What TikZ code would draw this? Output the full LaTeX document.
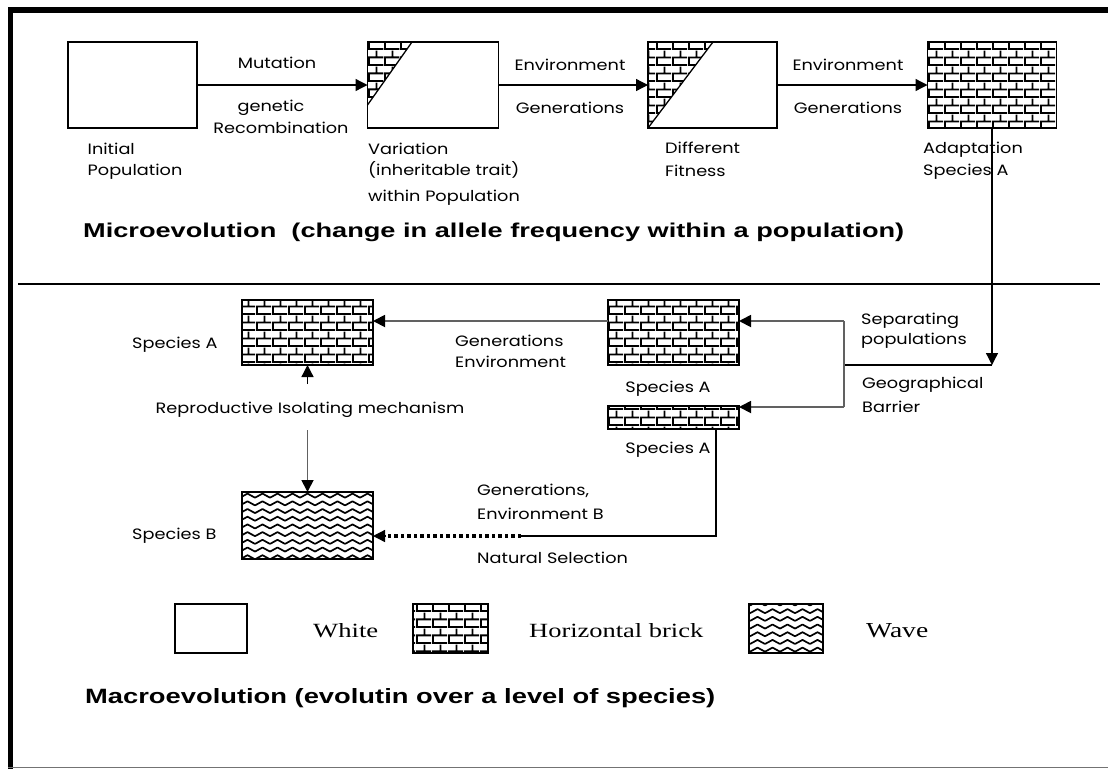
\documentclass[tikz,border=0pt]{standalone}
\usepackage{fontspec}
\usepackage{graphicx}
\usetikzlibrary{arrows.meta,patterns}
\newfontfamily\labfont[FakeStretch=1.18]{Poppins}
\newfontfamily\titlefont{Liberation Sans}
\newfontfamily\legfont{Liberation Serif}

\pgfdeclarepatternformonly{hbrick}{\pgfpointorigin}{\pgfpoint{16pt}{15.6pt}}{\pgfpoint{16pt}{15.6pt}}{%
  \pgfsetlinewidth{1.9pt}%
  \pgfpathmoveto{\pgfpoint{0pt}{0.95pt}}\pgfpathlineto{\pgfpoint{16pt}{0.95pt}}%
  \pgfpathmoveto{\pgfpoint{0pt}{8.75pt}}\pgfpathlineto{\pgfpoint{16pt}{8.75pt}}%
  \pgfpathmoveto{\pgfpoint{0.95pt}{0pt}}\pgfpathlineto{\pgfpoint{0.95pt}{7.8pt}}%
  \pgfpathmoveto{\pgfpoint{8.95pt}{7.8pt}}\pgfpathlineto{\pgfpoint{8.95pt}{15.6pt}}%
  \pgfusepath{stroke}}

\pgfdeclarepatternformonly{hwave}{\pgfpoint{-1pt}{-1pt}}{\pgfpoint{16pt}{8.7pt}}{\pgfpoint{15pt}{7.7pt}}{%
  \pgfsetlinewidth{1.7pt}%
  \pgfsetroundjoin
  \pgfpathmoveto{\pgfpoint{0pt}{1.8pt}}%
  \pgfpathlineto{\pgfpoint{7.5pt}{5.9pt}}%
  \pgfpathlineto{\pgfpoint{15pt}{1.8pt}}%
  \pgfusepath{stroke}}

\begin{document}
\begin{tikzpicture}[x=1pt,y=-1pt,
  box/.style={draw, line width=1.4pt, inner sep=0pt, outer sep=0pt},
  lab/.style={font=\labfont\fontsize{15}{17}\selectfont, inner sep=0pt, anchor=base west},
  labc/.style={lab, anchor=base},
  arr/.style={-{Triangle[length=12pt,width=12pt,color=black]}},
  conn/.style={line width=1.3pt, draw=black},
  gconn/.style={line width=1.8pt, draw=black!62},
  dotline/.style={line width=3.5pt, dash pattern=on 3.5pt off 3pt},
  legtext/.style={inner sep=0pt, anchor=base west, font=\legfont},
]
\useasboundingbox (0,0) rectangle (1108,769);

% frame
\fill[black] (8,7) rectangle (1108,12.5);
\fill[black] (8,7) rectangle (13,769);
\draw[black!55, line width=1.5pt] (8,767.5) -- (1108,767.5);

% divider
\draw[line width=1.3pt] (18,284) -- (1100,284);

% top row boxes
\node[box, minimum width=129pt, minimum height=86pt] (init) at (132.5,85) {};
\node[box, minimum width=131pt, minimum height=86pt] (var) at (433,85) {};
\node[box, minimum width=129pt, minimum height=86pt] (fit) at (712.5,85) {};
\node[box, minimum width=129pt, minimum height=86pt, pattern=hbrick] (adapt) at (992,85) {};

% partial brick triangles
\fill[pattern=hbrick] (var.north west) -- ++(44.5,0) -- ++(-44.5,63) -- cycle;
\draw[line width=1.3pt] (var.north west) ++(44.5,0) -- ++(-44.5,63);
\fill[pattern=hbrick] (fit.north west) -- ++(65,0) -- ++(-65,86) -- cycle;
\draw[line width=1.3pt] (fit.north west) ++(65,0) -- ++(-65,86);
\draw[box] (var.north west) rectangle (var.south east);
\draw[box] (fit.north west) rectangle (fit.south east);

% top arrows
\draw[conn,arr] (init.east) -- (var.west);
\draw[conn,arr] (var.east) -- (fit.west);
\draw[conn,arr] (fit.east) -- (adapt.west);

% top labels
\node[labc] (tMut) at (277,68) {Mutation};
\node[labc] (tGenetic) at (271,111) {genetic};
\node[labc] (tRecomb) at (281,133) {Recombination};
\node[labc] (tEnv1) at (570,70) {Environment};
\node[labc] (tGens1) at (570,113) {Generations};
\node[labc] (tEnv2) at (848,70) {Environment};
\node[labc] (tGens2) at (848,113) {Generations};

\node[lab] (tInit1) at (87.5,154) {Initial};
\node[lab] (tInit2) at (87.5,175) {Population};
\node[lab] (tVar1) at (368,154) {Variation};
\node[lab] (tVar2) at (368,175) {(inheritable trait)};
\node[lab] (tVar3) at (368,201) {within Population};
\node[lab] (tFit1) at (665,153) {Different};
\node[lab] (tFit2) at (665,176) {Fitness};
\node[lab] (tAd1) at (923,153) {Adaptation};
\node[lab] (tAd2) at (923,175) {Species A};

\node[inner sep=0pt, anchor=base west] (micro) at (83,237)
  {\resizebox{821pt}{14.5pt}{\titlefont\bfseries Microevolution\ \ (change in allele frequency within a population)}};

% bottom boxes
\node[box, minimum width=131pt, minimum height=65pt, pattern=hbrick] (spA1) at (307.5,332.5) {};
\node[box, minimum width=131pt, minimum height=65pt, pattern=hbrick] (spA2) at (673.5,332.5) {};
\node[box, minimum width=131pt, minimum height=23pt, pattern=hbrick] (spA3) at (673.5,417.5) {};
\node[box, minimum width=131pt, minimum height=67pt, pattern=hwave] (spB) at (307.5,525.5) {};

% connector points
\coordinate (j1) at (992,365);
\coordinate (j2) at (844,365);
\coordinate (j3) at (844,321);
\coordinate (j4) at (844,407);
\coordinate (ra) at (307.5,384);
\coordinate (rb) at (307.5,430);
\coordinate (k1) at (716,536);
\coordinate (k2) at (521,536);
\coordinate (k3) at (386,536);

\draw[conn,arr] (adapt.south) -- (j1);
\draw[conn] (j1) -- (j2);
\draw[gconn] (j3) -- (j4);
\draw[gconn,arr] (j3) -- (spA2.east |- j3);
\draw[gconn,arr] (j4) -- (spA3.east |- j4);
\draw[gconn,arr] (spA2.west |- j3) -- (spA1.east |- j3);
\draw[conn,arr] (ra) -- (spA1.south);
\draw[gconn,arr] (rb) -- (spB.north);
\draw[conn] (spA3.south -| k1) -- (k1) -- (k2);
\draw[dotline] (k2) -- (k3);
\draw[conn,arr] (k3) -- (spB.east |- k2);

% bottom labels
\node[lab] (tSpA1) at (132,348) {Species A};
\node[lab] (tGen3) at (455,346) {Generations};
\node[lab] (tEnv3) at (455,367) {Environment};
\node[labc] (tRep) at (310,413) {Reproductive Isolating mechanism};
\node[lab] (tSpB) at (132,539) {Species B};
\node[lab] (tGen4) at (477,495) {Generations,};
\node[lab] (tEnv4) at (477,519) {Environment B};
\node[lab] (tNat) at (477,563) {Natural Selection};
\node[lab] (tSep1) at (861,324) {Separating};
\node[lab] (tSep2) at (861,344) {populations};
\node[lab] (tGeo1) at (862,388) {Geographical};
\node[lab] (tGeo2) at (862,412) {Barrier};
\node[labc] (tSpA2) at (668,392) {Species A};
\node[labc] (tSpA3) at (668,453) {Species A};

% legend
\node[box, minimum width=72pt, minimum height=49pt] (lgW) at (211,628.5) {};
\node[box, minimum width=75pt, minimum height=49pt, pattern=hbrick] (lgB) at (450.5,628.5) {};
\node[box, minimum width=74pt, minimum height=49pt, pattern=hwave] (lgV) at (786,628.5) {};
\node[legtext] (tW) at (313,637) {\resizebox{65pt}{14pt}{White}};
\node[legtext] (tB) at (529,637) {\resizebox{174pt}{14pt}{Horizontal brick}};
\node[legtext] (tV) at (866,637) {\resizebox{62pt}{14pt}{Wave}};

\node[inner sep=0pt, anchor=base west] (macro) at (85,703)
  {\resizebox{630pt}{15pt}{\titlefont\bfseries Macroevolution (evolutin over a level of species)}};
\end{tikzpicture}
\end{document}
